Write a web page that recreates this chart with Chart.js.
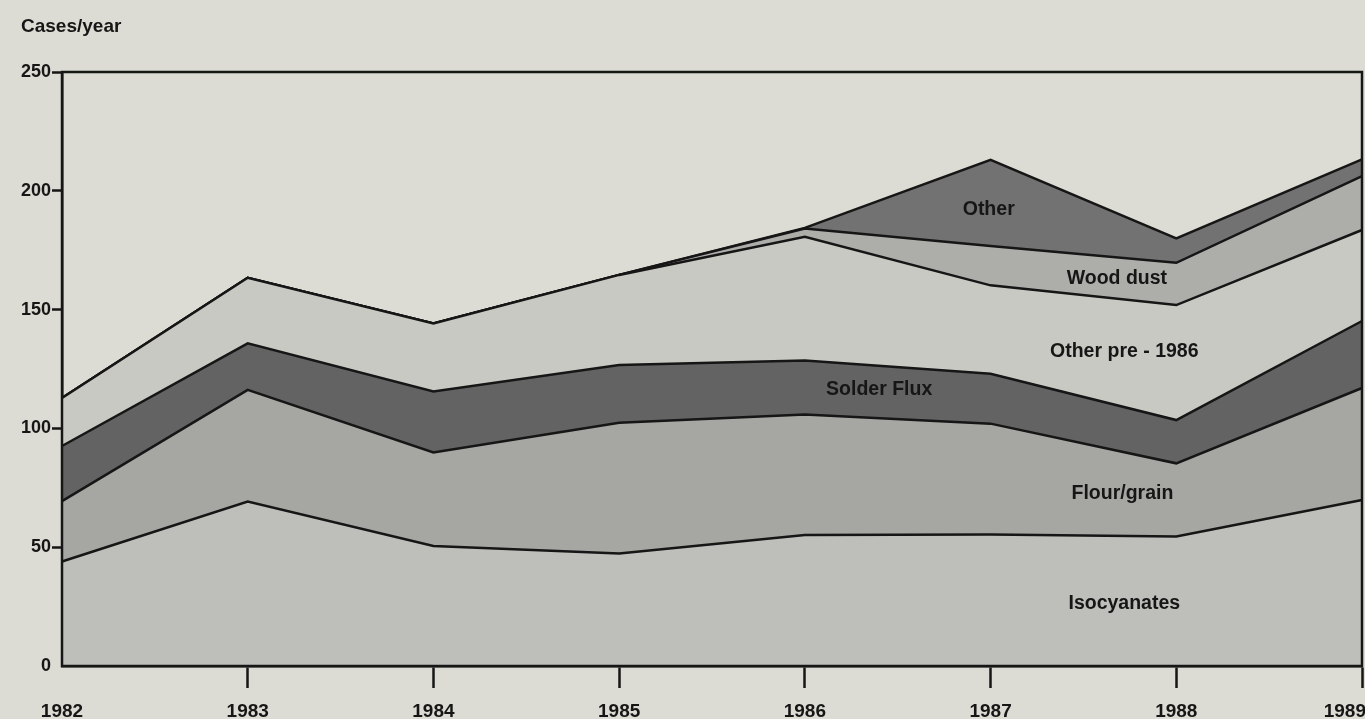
<!DOCTYPE html>
<html><head><meta charset="utf-8">
<script src="https://cdn.jsdelivr.net/npm/chart.js@4.4.0/dist/chart.umd.min.js"></script>
<style>html,body{margin:0;padding:0;background:#dcdcd4;overflow:hidden}#wrap{width:1365px;height:719px;position:relative}</style>
</head><body><div id="wrap"><canvas id="c" width="1365" height="719"></canvas></div>
<script>
const years = ['1982','1983','1984','1985','1986','1987','1988','1989'];
const isocyanates  = [44.0, 69.2, 50.5, 47.4, 55.1, 55.3, 54.5, 69.9];
const flourGrain   = [25.4, 47.0, 39.4, 55.0, 50.7, 46.7, 30.8, 47.1];
const solderFlux   = [23.2, 19.6, 25.6, 24.3, 22.8, 21.0, 18.2, 28.2];
const otherPre1986 = [20.2, 27.6, 28.7, 37.9, 52.0, 37.2, 48.4, 38.3];
const woodDust     = [0, 0, 0, 0, 3.5, 16.6, 17.8, 22.7];
const other        = [0, 0, 0, 0, 0.3, 36.2, 10.3, 7.0];
const yTicks = [0, 50, 100, 150, 200, 250];

const seriesNames  = ['Isocyanates','Flour/grain','Solder Flux','Other pre - 1986','Wood dust','Other'];
const seriesFills  = ['#bebebb','#a6a6a3','#636363','#c9c9c4','#adadaa','#727272'];
// in-chart labels (text, x as year index, y as value)
const labelTexts = ['Other','Wood dust','Other pre - 1986','Solder Flux','Flour/grain','Isocyanates'];
const labelX     = [4.99, 5.68, 5.72, 4.40, 5.71, 5.72];
const labelY     = [191.9, 162.9, 132.2, 116.2, 72.4, 26.1];

const INK = '#161616';
const FAM = '"Liberation Sans", Arial, Helvetica, sans-serif';
const X_TICK_LEN = 22, X_PAD = 12, X_FONT = 19;
const seriesData = [isocyanates, flourGrain, solderFlux, otherPre1986, woodDust, other];
const lastIdx = years.length - 1;

const datasets = seriesData.map((d, i) => ({
  label: seriesNames[i],
  data: d,
  backgroundColor: seriesFills[i],
  borderColor: INK,
  borderWidth: 2.5,
  fill: i === 0 ? 'origin' : '-1',
  pointRadius: 0,
  tension: 0
}));

const decor = {
  id: 'decor',
  afterDatasetsDraw(chart) {
    const {ctx, chartArea: a, scales: {x, y}} = chart;
    ctx.save();
    ctx.strokeStyle = INK; ctx.lineWidth = 2.5;
    ctx.strokeRect(a.left, a.top, a.right - a.left, a.bottom - a.top);
    ctx.fillStyle = INK;
    ctx.font = 'bold 19.5px ' + FAM;
    ctx.textAlign = 'center'; ctx.textBaseline = 'middle';
    labelTexts.forEach((t, i) => ctx.fillText(t, x.getPixelForValue(labelX[i]), y.getPixelForValue(labelY[i])));
    ctx.font = 'bold 19px ' + FAM;
    ctx.textAlign = 'left'; ctx.textBaseline = 'alphabetic';
    ctx.fillText('Cases/year', 21, 32);
    // last x label: kept inside the page edge
    ctx.font = 'bold ' + X_FONT + 'px ' + FAM;
    ctx.textAlign = 'right'; ctx.textBaseline = 'middle';
    ctx.fillText(years[lastIdx], chart.width + 1, x.top + X_TICK_LEN + X_PAD + X_FONT * 1.2 / 2);
    ctx.restore();
  }
};

new Chart(document.getElementById('c'), {
  type: 'line',
  data: { labels: years, datasets },
  options: {
    responsive: false, animation: false, devicePixelRatio: 1,
    layout: { padding: { top: 72, right: 3, bottom: 0, left: 0 } },
    plugins: { legend: { display: false }, tooltip: { enabled: false }, filler: { propagate: false } },
    scales: {
      x: {
        type: 'category', offset: false,
        grid: { display: true, drawOnChartArea: false, tickLength: X_TICK_LEN, tickWidth: 2.5,
                tickColor: c => c.index === 0 ? 'rgba(0,0,0,0)' : INK },
        border: { display: true, color: INK, width: 2.5 },
        ticks: { color: c => c.index === lastIdx ? 'rgba(0,0,0,0)' : INK,
                 font: { family: FAM, size: X_FONT, weight: 'bold' }, padding: X_PAD, maxRotation: 0, autoSkip: false },
        afterFit(s) { s.height = 53; s.paddingLeft = 0; s.paddingRight = 0; }
      },
      y: {
        stacked: true, min: 0, max: 250,
        afterBuildTicks(s) { s.ticks = yTicks.map(v => ({ value: v })); },
        grid: { display: true, drawOnChartArea: false, tickLength: 10, tickWidth: 2.5,
                tickColor: c => c.index === 0 ? 'rgba(0,0,0,0)' : INK },
        border: { display: true, color: INK, width: 2.5 },
        ticks: { color: INK, font: { family: FAM, size: 18, weight: 'bold' }, padding: 1 },
        afterFit(s) { s.width = 62; s.paddingTop = 0; s.paddingBottom = 0; }
      }
    }
  },
  plugins: [decor]
});
</script></body></html>
